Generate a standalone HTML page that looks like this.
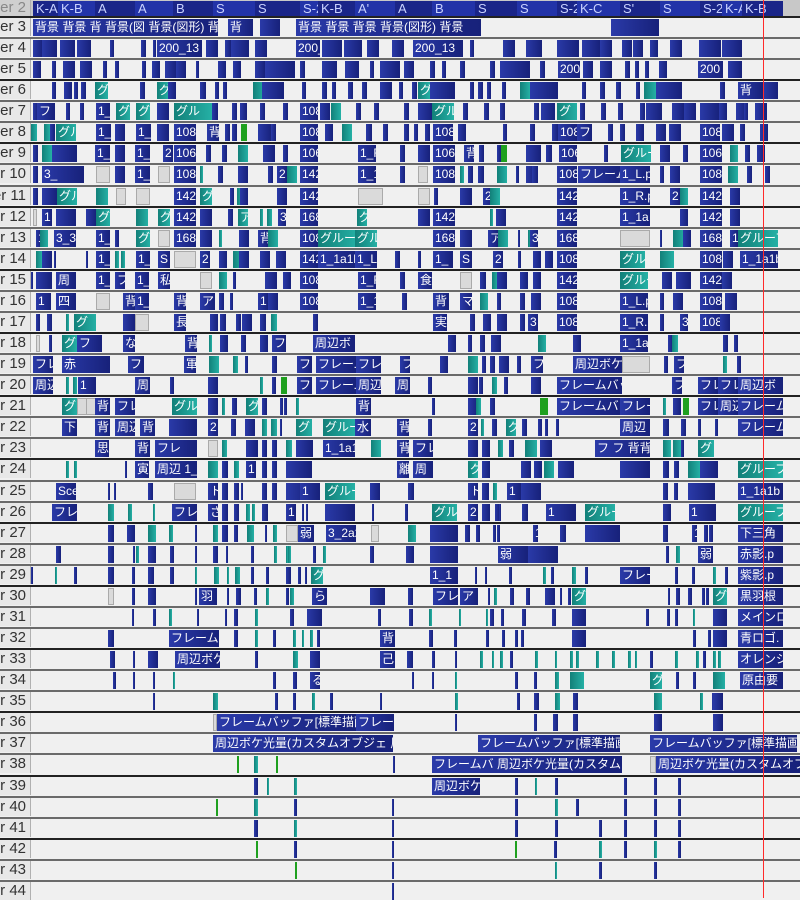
<!DOCTYPE html>
<html><head><meta charset="utf-8">
<style>
html,body{margin:0;padding:0;}
body{width:800px;height:898px;overflow:hidden;background:#f0f0f0;position:relative;font-family:"Liberation Sans","Noto Sans CJK JP",sans-serif;}
.sep{position:absolute;left:0;width:800px;height:2px;background:#6a6a6a;}
.lab{position:absolute;left:0;width:26px;padding-right:4px;height:18px;background:#e8e8e8;border-right:1px solid #b0b0b0;color:#333;font-size:15px;line-height:18px;text-align:right;white-space:nowrap;overflow:hidden;direction:rtl;}
.c{position:absolute;height:17px;overflow:hidden;white-space:nowrap;color:#fff;font-size:12px;line-height:17px;padding-left:2px;box-sizing:border-box;}
.b{background:linear-gradient(to right,#2a3aa8,#17217a);}
.t{background:linear-gradient(to right,#128079,#25b0a5);}
.g{background:#dadada;border:1px solid #aaa;}
.G{background:#1fa01f;}
.hdr{position:absolute;top:0;height:16px;background:#c8c8c8;}
.seg{position:absolute;top:1px;height:15px;color:#c9d2ff;font-size:13px;line-height:15px;padding-left:3px;box-sizing:border-box;overflow:hidden;white-space:nowrap;}
#red{position:absolute;left:763px;top:0;width:1px;height:898px;background:#ff2a2a;z-index:5;}
</style></head><body>
<div class="hdr" style="left:0;width:800px"></div>
<div class="lab" style="top:0;height:16px;line-height:16px;background:#cfcfcf;color:#888">Layer 2</div>
<div id="hd"></div>
<div id="tl"></div>
<div id="red"></div>
<script>
(function(){
var segs=[[33,25,"K-A"],[58,37,"K-B"],[95,40,"A"],[135,38,"A"],[173,40,"B"],[213,42,"S"],[255,45,"S"],[300,18,"S-2"],[318,37,"K-B"],[355,40,"A'"],[395,37,"A"],[432,43,"B"],[475,42,"S"],[517,40,"S"],[557,20,"S-2"],[577,43,"K-C"],[620,40,"S'"],[660,40,"S"],[700,22,"S-2"],[722,20,"K-A"],[742,41,"K-B"]];
var h='';
segs.forEach(function(s,i){var bg=(i%2)?'#2233a8':'#1a2588';h+='<div class="seg" style="left:'+s[0]+'px;width:'+s[1]+'px;background:'+bg+'">'+s[2]+'</div>';});
document.getElementById('hd').innerHTML=h;
var D={
3:"b33,185,背景 背景 背 背景(図 背景(図形) 背景;b228,25,背;b260,20;b296,185,背景 背景 背景 背景(図形) 背景;b611,48",
4:"b33,10;b42,15;b60,15;b77,14;b110,4;b141,5;b153,3;b157,45,200_13;b206,12;b225,6;b231,18;b255,12;b296,24,200_13;b322,20;b344,18;b367,12;b392,12;b413,50,200_13;b470,4;b503,12;b526,16;b557,22;b582,18;b600,12;b622,10;b633,10;b650,8;b670,12;b699,22;b722,20",
5:"b33,8;b52,4;b63,12;b80,12;b103,4;b115,4;b142,4;b152,8;b165,12;b176,10;b196,3;b218,8;b233,8;b255,10;b265,30;b300,5;b322,15;b345,14;b370,4;b380,20;b404,10;b430,5;b442,4;b460,5;b490,5;b500,30;b540,5;b558,22,200;b583,10;b600,12;b625,5;b635,4;b645,4;b659,8;b698,25,200;b728,14",
6:"b52,4;b64,8;b74,4;b81,5;t95,13,グ;b140,5;t157,12,グ;b168,8;b200,6;b215,4;b223,4;t253,12;b262,22;b302,4;b322,5;b332,4;b348,5;b362,5;b380,12;b399,4;b412,5;t418,12,グ;b430,25;b470,4;b478,5;b487,4;b502,4;t520,10;b530,28;b582,4;b600,5;b616,5;b636,4;t644,12;b656,26;b720,5;b738,25,背;b763,15",
7:"b33,5;b37,18,フ;b66,4;b80,4;b96,14,1_;t116,14,グ;t136,14,グ;b157,12;t174,38,グル;b212,6;b232,5;b240,7;b260,5;b283,5;b300,18,108;b320,10;t331,10;b356,5;b374,5;b404,5;b418,15;t432,22,グル;b463,5;b484,5;b500,5;b534,5;b541,14;t557,20,グ;b580,5;b601,5;b618,5;b640,5;b646,16;b672,12;b684,12;b700,20;b719,8;b736,12;b744,4;b755,12",
8:"t31,6;t44,6;b50,5;t56,20,グル;b96,15,1_;b115,10;b136,15,1_;b157,12;b174,22,108;b207,12,背;b225,5;b232,5;G241,6;b258,14;b271,5;b300,18,108;b325,8;t342,10;b366,6;b383,5;b404,5;b414,4;b425,5;b433,20,108;b458,8;b503,4;b530,5;b552,6;b558,20,108;b577,15,フ;b608,5;b620,5;b636,8;b656,10;b669,12;b700,20,108;b722,12;b740,5;b760,8",
9:"b33,5;t42,10;b52,25;b95,15,1_;b115,10;b135,15,1_;b163,10,2;b174,22,106;b206,5;b222,5;t238,10;b263,12;b283,5;b300,18,106;b358,18,1_R;b400,5;b418,12;b433,22,106;b464,10,背;b479,5;b497,4;G501,6;b526,15;b546,6;b559,18,106;b604,4;t621,30,グルー;b660,10;b683,5;b700,22,106;t730,8;b745,5;b757,8",
10:"b33,5;b42,42,3_;g96,14;b115,10;b135,15,1_;g158,12;b174,22,108;t200,3;b218,5;b238,10;b268,5;b277,10,2;t287,10;b300,18,142;b358,18,1_1a;b400,5;g418,10;b433,22,108;t460,4;b468,5;b478,6;t497,10;b516,3;b526,10;b532,6;b557,20,108;b578,45,フレームバ;b620,30,1_L.p;b660,4;b670,10;b700,22,108;t728,10;b747,5;b765,5",
11:"b33,5;b42,15;t57,20,グル;t96,12;g116,10;g136,14;b174,22,142;t200,12,グ;b230,4;t237,5;b240,8;b277,10;b300,18,142;g358,25;g418,12;b434,4;b460,12;b483,10,2;t490,10;b557,20,142;b620,30,1_R.p;b670,10,2;t680,8;b700,22,142;b730,10",
12:"g33,4;b42,10,1;b56,20;b86,10;t96,14,グ;t136,12;t158,12,グ;b174,22,142;b200,12;b228,5;t238,10,ア;t260,3;t267,5;b278,8,3;b300,18,168;t357,10,グ;b418,12;b433,22,142;t490,3;b496,10;b557,20,142;b620,30,1_1a;b680,8;b700,22,142;b730,10",
13:"b36,5,1;t40,8;b54,22,3_3;b96,14,1_;b115,4;t136,14,グ;g158,12;b174,22,168;b200,12;t219,3;b239,10;b258,10,背;t268,10;b300,18,108;t318,40,グループ;t355,22,グル;b433,22,168;b460,12;b488,10,ア;t498,10;b518,2;t528,4;b530,8,3;b557,20,168;g620,30;b660,2;t673,12;b683,8;b700,22,168;b730,8,1;t738,40,グループ",
14:"t36,6;b42,10;b54,2;b86,2;b96,14,1_;t115,4;t121,4;b136,14,1_;b158,12,S;g174,22;b200,10,2;b219,8;t233,10;b239,10;b260,10;b276,10;b300,18,142;b318,38,1_1a1b;b355,22,1_L;b395,5;b418,3;b433,20,1_;b460,12,S;b493,10,2;b518,3;b533,8;b545,8;b557,20,108;t620,25,グル;t660,14;b700,22,108;b723,10;b740,38,1_1a1b",
15:"b31,2;b36,16;b56,20,周;b96,14,1_;b115,10,フ;b135,14,1_;b158,12,私;g200,12;t219,8;b233,3;b265,12;b283,8;b300,18,108;b358,18,1_R;b400,5;b418,14,食;g460,12;b480,6;t492,6;b497,10;b520,8;b533,8;b557,20,142;t620,28,グルー;b662,10;b676,15;b700,22,142;b722,10",
16:"b36,15,1;b56,20,四;g96,14;b123,12,背;b135,14,1_;b174,12,背;b200,15,ア;b219,5;b230,3;b258,10,1;b268,10;b300,18,108;b358,18,1_1a;b402,5;b433,16,背;b460,12,マ;t480,8;b497,4;b520,5;b531,10;b557,20,108;b620,28,1_L.p;b660,4;b673,10;b700,22,108;b725,12",
17:"b36,4;b47,5;t66,3;t74,22,グ;b123,12;g135,14;b174,12,長;b210,8;b220,6;b236,5;b242,10;b260,6;t271,6;b313,5;b433,14,実;b470,5;b483,8;b497,10;b520,5;b528,10,3;b557,20,108;b620,28,1_R.p;b660,4;b680,8,3;b700,22,108;b720,10",
18:"g36,4;b49,3;t62,15,グ;b77,25,フ;b123,12,な;b185,12,背;t209,3;b220,8;b241,5;b260,8;b272,14,フ;b313,42,周辺ボ;b448,8;b468,4;b480,5;b491,10;t538,8;b573,8;b620,28,1_1a;b668,5;t672,6;b723,5;b734,4",
19:"b33,20,フレ;b62,48,赤;b128,16,フ;b184,12,軍;t209,10;t233,5;b245,3;b272,5;b297,15,フレ;b316,40,フレーム;b356,25,フレ;b400,10,フ;b440,8;t468,10;b482,4;b490,5;b499,10;b517,4;b531,12,フ;b573,50,周辺ボケ;g622,28;b664,4;b674,10,フ;t723,4;b737,4",
20:"b33,20,周辺;t66,3;t73,4;b78,18,1;b135,15,周;b170,4;b208,10;t260,3;b272,4;G281,6;b297,15,フレ;b316,40,フレーム;b356,25,周辺;b395,15,周;b428,4;b468,10;b479,4;t492,5;b504,4;b531,10;b557,65,フレームバッフ;b672,10,フ;b698,20,フレ;b718,20,フレ;b738,45,周辺ボ",
21:"t62,15,グ;g77,10;g86,10;b95,15,背;b115,20,フレ;t172,25,グル;b208,10;t222,3;b232,5;t246,12,グ;b262,5;b280,3;b284,3;t296,3;b356,15,背;b432,3;b468,10;t476,5;b490,5;G540,8;b557,65,フレームバッフ;b620,30,フレー;t663,3;b673,8;G683,6;b698,20,フレ;b718,20,周辺;b738,45,フレーム",
22:"b62,15,下;b95,15,背;b115,20,周辺;b140,15,背;b169,28;b208,10,2;b231,5;b245,10;t262,5;t271,6;b280,2;t296,16,グ;t323,32,グルー;b355,16,水;b397,12,背;b428,4;b468,10,2;t481,3;b492,5;t506,10,グ;b522,5;b538,4;b545,3;b556,3;b620,30,周辺;b663,6;b681,5;b698,3;b715,3;b738,45,フレーム",
23:"b95,14,思;b135,15,背;b155,42,フレ;g208,10;t222,5;b246,12;b262,5;b272,5;t286,6;b296,17;b323,32,1_1a1;t371,10;b397,12,背;b413,20,フレ;b468,10;b482,8;t498,5;b509,5;t525,12;b540,12;b595,55,フ フ 背背背;t663,8;t673,8;b681,3;t698,16,グ",
24:"t66,3;t74,3;b125,2;b135,14,寅;b155,42,周辺 1_1;t208,10;b222,6;t234,5;b246,10,1;b262,5;b272,5;b286,26;b397,12,離;b413,20,周;t468,10,グ;b482,8;b521,10;b534,8;t544,10;b558,16;b620,30;b663,6;b674,5;t688,12;b700,18;t738,45,グループ",
25:"b56,20,Sce;b108,2;b114,2;b148,5;g174,22;b208,10,ト;b222,6;b234,5;b241,2;b262,5;b272,5;b286,25;b300,20,1;t325,30,グルー;b370,10;b408,6;b468,10,ト;b482,7;t493,4;b507,14,1;b521,20;b663,5;b674,4;b688,27;b738,45,1_1a1b",
26:"b52,25,フレー;t108,6;t128,4;t153,2;b172,25,フレ;b208,10,さ;b222,6;b234,5;t246,4;t252,3;b262,6;b286,10,1;b302,2;b306,2;b325,30;b372,2;b405,3;t432,25,グル;b468,10,2;b482,8;b495,5;b499,2;b522,6;b546,30,1;t585,30,グルー;b663,8;b689,27,1;t738,45,グループ",
27:"b108,6;b127,8;t148,8;t169,4;b195,2;t213,5;b222,6;b234,4;t247,7;b265,2;t273,4;g286,12;b298,16,弱;b326,30,3_2a2;g371,8;t408,8;b430,28;b465,5;b476,4;b493,3;b497,3;b533,5,1;b560,6;b585,35;b663,5;b692,5,1;b704,4;b709,4;b738,45,下三角",
28:"b56,5;b108,6;b133,2;t136,3;b148,8;b170,4;b195,2;b213,5;b226,2;b251,3;t274,3;t286,2;t288,3;b313,3;t323,3;b370,4;b406,8;b430,28;g545,12;b498,30,弱;b528,30;b666,3;t676,4;b698,15,弱;b738,45,赤影.p",
29:"b31,2;t55,2;b74,3;b108,6;b132,3;b148,6;b170,4;t195,2;t214,5;t227,2;t235,5;b251,3;b266,3;b286,5;b298,3;b305,2;t311,12,グ;b430,28,1_1;b475,2;b485,2;b509,3;t543,3;b551,3;t572,4;b585,3;b620,30,フレー;b675,3;b692,3;t713,3;b725,3;b738,45,紫影.p",
30:"g108,6;b132,3;b148,8;b195,2;b199,18,羽;b227,2;b236,5;b254,3;t266,3;b286,3;t290,4;b312,15,ら;b370,15;b408,5;b433,25,フレ;b460,18,ア;b488,2;t494,3;b510,4;b526,4;b545,10;b560,2;b568,3;t572,14,グ;b668,2;b676,4;b688,4;b702,3;b706,3;t713,14,グ;b738,45,黒羽根",
31:"b132,2;b153,3;t169,3;b197,2;b225,2;b234,4;t255,3;b290,4;b307,15;b378,3;b409,4;t429,3;t459,2;t486,2;b490,4;b501,3;b522,4;b552,4;b572,14;b646,3;b667,3;b675,3;t693,2;b713,14;b738,45,メインロ",
32:"b108,6;b169,50,フレームバ;b234,4;t255,3;b273,3;t293,3;t302,2;t310,3;b317,3;b380,15,背;b429,4;b454,3;b486,3;b502,3;b515,3;b521,3;b572,14;b693,3;b708,3;b713,14;b738,45,青ロゴ.",
33:"b110,5;b133,2;b148,10;b175,45,周辺ボケ;b255,3;t293,5;b310,10;b380,15,己;b407,6;b432,3;b455,2;t480,3;t492,2;t500,3;b510,3;t535,3;t555,2;t570,3;t576,3;t596,3;t612,3;t628,3;t635,2;b650,3;t675,3;t696,3;b703,3;t713,3;t718,3;b738,45,オレンジ",
34:"b113,3;b133,2;b153,2;t173,2;b273,3;b293,4;b310,10,る;b412,2;b432,2;t455,2;b515,3;b534,3;t555,4;t570,14;t650,12,グ;b676,3;b693,3;t713,12;b740,43,原由要",
35:"b153,2;t213,5;b275,3;b293,3;t312,3;b330,3;b380,2;t455,3;b517,3;b534,5;t555,5;b573,5;t654,8;t700,3;b712,3;b713,10",
36:"g213,4;b217,140,フレームバッファ[標準描画];b356,38,フレーム;b455,2;b534,3;b553,5;b573,5;b654,8;b713,10",
37:"b213,180,周辺ボケ光量(カスタムオブジェ 周辺ボ;b478,142,フレームバッファ[標準描画];b650,147,フレームバッファ[標準描画]",
38:"G237,2;t254,4;G276,2;b393,2;b432,190,フレームバ 周辺ボケ光量(カスタムオブジェ;g650,6;b656,144,周辺ボケ光量(カスタムオブジェ",
39:"b254,4;t267,2;t294,3;b432,48,周辺ボケ;b515,3;t535,2;b555,3;b624,3;b654,3;b678,3",
40:"G216,2;t254,4;b294,3;b392,2;b515,3;t555,3;b576,3;b624,3;b654,3;b678,3",
41:"b254,4;t294,3;b392,2;b515,3;b555,3;b599,3;b624,3;b654,3;b678,3",
42:"G256,2;b294,3;b392,2;G515,2;b554,3;t599,3;b624,3;t654,3;b678,3",
43:"G295,2;b392,2;t555,2;b599,3;b654,3",
44:"b392,2"
};
var out='';
for(var L=3;L<=44;L++){
  var rt=Math.round(16+(L-3)*21.07);
  out+='<div class="sep" style="top:'+rt+'px;'+(L%3==0?'background:#222':'')+'"></div>';
  out+='<div class="lab" style="top:'+(rt+2)+'px"><span style="direction:ltr;unicode-bidi:isolate">Layer '+L+'</span></div>';
  var s=D[L]||'';
  s.split(';').forEach(function(it){
    if(!it)return;
    var p=it.split(','),ty=p[0].charAt(0),x=+p[0].slice(1),w=+p[1],tx=p.slice(2).join(',');
    out+='<div class="c '+ty+'" style="left:'+x+'px;top:'+(rt+3)+'px;width:'+w+'px">'+tx+'</div>';
  });
}
document.getElementById('tl').innerHTML=out;
})();
</script>
</body></html>
